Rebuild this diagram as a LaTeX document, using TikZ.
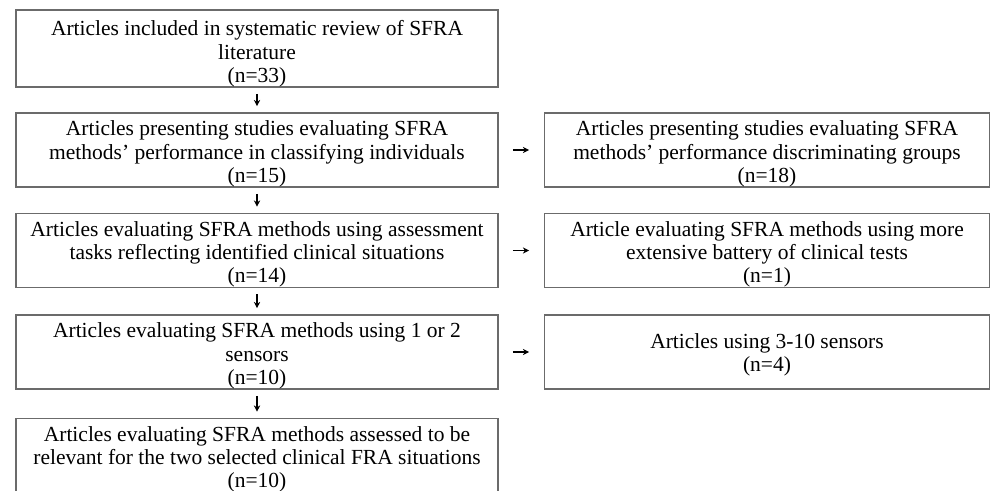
\documentclass[tikz,border=0pt]{standalone}
\usepackage{fontspec}
\setmainfont{Liberation Serif}
\usetikzlibrary{arrows.meta}
\definecolor{boxgray}{gray}{0.42}
\begin{document}
\begin{tikzpicture}[x=0.6pt,y=-0.6pt,font=\fontsize{12.9pt}{14pt}\selectfont,
	box/.style={draw=boxgray,line width=1pt,align=flush center,inner sep=0pt,minimum height=44.2pt,
		execute at begin node={\rule{0pt}{#1}}},
	box/.default=13.6pt,
	lbox/.style={box=#1,minimum width=289.2pt,text width=287pt},
	lbox/.default=13.6pt,
	rbox/.style={box=#1,minimum width=267pt,text width=265pt},
	rbox/.default=13.6pt,
	down/.style={-{Stealth[length=3.8pt,width=3.8pt]},line width=0.7pt,shorten <=3.6pt,shorten >=3.6pt},
	across/.style={down,shorten <=8.4pt,shorten >=8.7pt}]
	\useasboundingbox (0,0) rectangle (991,491);
	% left column
	\node[lbox=15.6pt,minimum height=46.2pt] (incl) at (257,48.5) {Articles included in systematic review of SFRA\\ literature\\ (n=33)};
	\node[lbox] (indiv) at (257,150) {Articles presenting studies evaluating SFRA\\ methods' performance in classifying individuals\\ (n=15)};
	\node[lbox] (tasks) at (257,250.5) {Articles evaluating SFRA methods using assessment\\ tasks reflecting identified clinical situations\\ (n=14)};
	\node[lbox] (few) at (257,352) {Articles evaluating SFRA methods using 1 or 2\\ sensors\\ (n=10)};
	\node[lbox] (relevant) at (257,455.5) {Articles evaluating SFRA methods assessed to be\\ relevant for the two selected clinical FRA situations\\ (n=10)};
	% right column
	\node[rbox] (groups) at (767,150) {Articles presenting studies evaluating SFRA\\ methods' performance discriminating groups\\ (n=18)};
	\node[rbox] (battery) at (767,250.5) {Article evaluating SFRA methods using more\\ extensive battery of clinical tests\\ (n=1)};
	\node[rbox=12.3pt] (many) at (767,352) {Articles using 3-10 sensors\\ (n=4)};
	% arrows
	\foreach \a/\b in {incl/indiv,indiv/tasks,tasks/few,few/relevant}{\draw[down] (\a.south) -- (\b.north);}
	\foreach \a/\b in {indiv/groups,tasks/battery,few/many}{\draw[across] (\a.east) -- (\b.west);}
\end{tikzpicture}
\end{document}
